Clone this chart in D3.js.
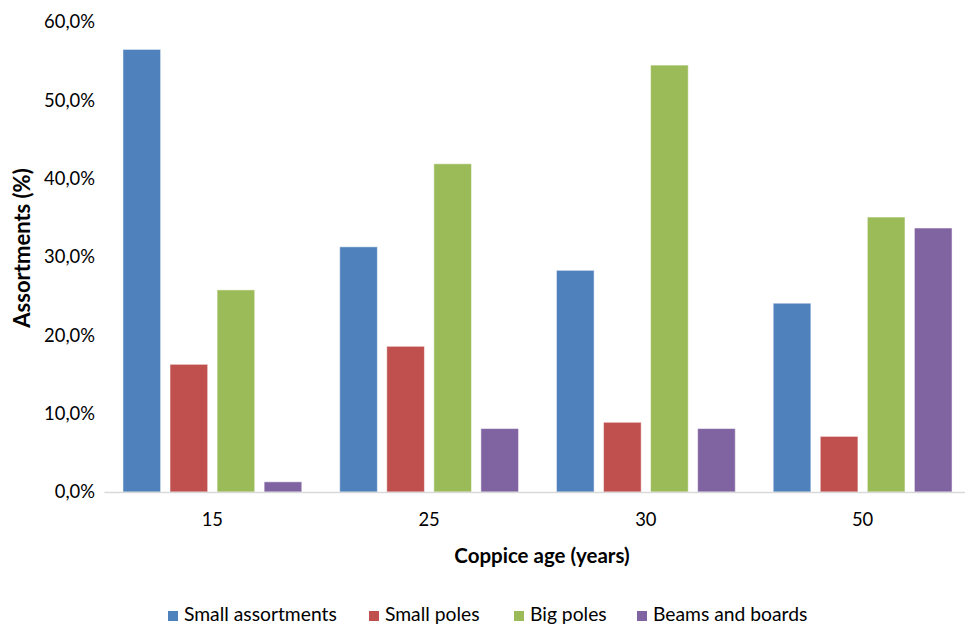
<!DOCTYPE html>
<html>
<head>
<meta charset="utf-8">
<script src="https://cdn.jsdelivr.net/npm/d3@7/dist/d3.min.js"></script>
<style>
  html, body { margin: 0; padding: 0; background: #fff; }
  svg { display: block; font-family: Lato, "Open Sans", sans-serif; }
</style>
</head>
<body>
<svg id="chart" width="965" height="624"></svg>
<script>
// Coppice age groups and assortment shares (%)
const categories = ["15", "25", "30", "50"];
const seriesNames = ["Small assortments", "Small poles", "Big poles", "Beams and boards"];
const smallAssortments = [56.5, 31.3, 28.3, 24.1];
const smallPoles = [16.3, 18.6, 8.9, 7.1];
const bigPoles = [25.8, 41.9, 54.5, 35.1];
const beamsAndBoards = [1.3, 8.1, 8.1, 33.7];
const yTicks = [0, 10, 20, 30, 40, 50, 60];
const colors = ["#4f81bd", "#c0504d", "#9bbb59", "#8064a2"];

const seriesValues = [smallAssortments, smallPoles, bigPoles, beamsAndBoards];

const svg = d3.select("#chart");
const margin = { left: 104, right: -6, top: 22, bottom: 132 };
const width = 965, height = 624;

const x0 = d3.scaleBand()
  .domain(categories)
  .range([margin.left, width - margin.right])
  .paddingInner(0.175)
  .paddingOuter(0.0875);

const x1 = d3.scaleBand()
  .domain(seriesNames)
  .range([0, x0.bandwidth()])
  .paddingInner(0.2);

const y = d3.scaleLinear()
  .domain([0, 60])
  .range([height - margin.bottom, margin.top]);

// Y axis labels (no line, no ticks)
const fmt = v => v.toFixed(1).replace(".", ",") + "%";
const yAxis = svg.append("g")
  .attr("transform", `translate(${margin.left - 9},0)`)
  .call(d3.axisLeft(y).tickValues(yTicks).tickFormat(fmt).tickSize(0).tickPadding(0));
yAxis.select(".domain").remove();
yAxis.selectAll("text")
  .attr("font-size", 18.4)
  .attr("fill", "#000")
  .attr("font-family", "Lato, sans-serif");

// Bars
const groups = svg.append("g")
  .selectAll("g")
  .data(categories)
  .join("g")
  .attr("transform", d => `translate(${x0(d)},0)`);

groups.selectAll("rect")
  .data((d, i) => seriesNames.map((s, j) => ({ s, j, v: seriesValues[j][i] })))
  .join("rect")
  .attr("x", d => x1(d.s))
  .attr("width", x1.bandwidth())
  .attr("y", d => y(d.v))
  .attr("height", d => y(0) - y(d.v))
  .attr("fill", d => colors[d.j])
  .attr("stroke", "#ffffff")
  .attr("stroke-opacity", 0.5)
  .attr("stroke-width", 1);

// X axis
const xAxis = svg.append("g")
  .attr("transform", `translate(0,${y(0)})`)
  .call(d3.axisBottom(x0).tickSize(0).tickPadding(21));
xAxis.select(".domain")
  .attr("stroke", "#d9d9d9")
  .attr("stroke-width", 1.5);
xAxis.selectAll("text")
  .attr("font-size", 18.4)
  .attr("fill", "#000")
  .attr("font-family", "Lato, sans-serif");

// Axis titles
svg.append("text")
  .attr("x", 542)
  .attr("y", 563)
  .attr("text-anchor", "middle")
  .attr("font-size", 20.5)
  .attr("font-weight", "bold")
  .text("Coppice age (years)");

svg.append("text")
  .attr("transform", `translate(30,248) rotate(-90)`)
  .attr("text-anchor", "middle")
  .attr("font-size", 22)
  .attr("font-weight", "bold")
  .text("Assortments (%)");

// Legend
const legendX = [168, 369, 514, 637];
const legend = svg.append("g")
  .selectAll("g")
  .data(seriesNames)
  .join("g")
  .attr("transform", (d, i) => `translate(${legendX[i]},616)`);
legend.append("rect")
  .attr("x", 0).attr("y", -5)
  .attr("width", 10).attr("height", 10)
  .attr("fill", (d, i) => colors[i]);
legend.append("text")
  .attr("x", 16)
  .attr("y", 5)
  .attr("font-size", 19.3)
  .text(d => d);
</script>
</body>
</html>
